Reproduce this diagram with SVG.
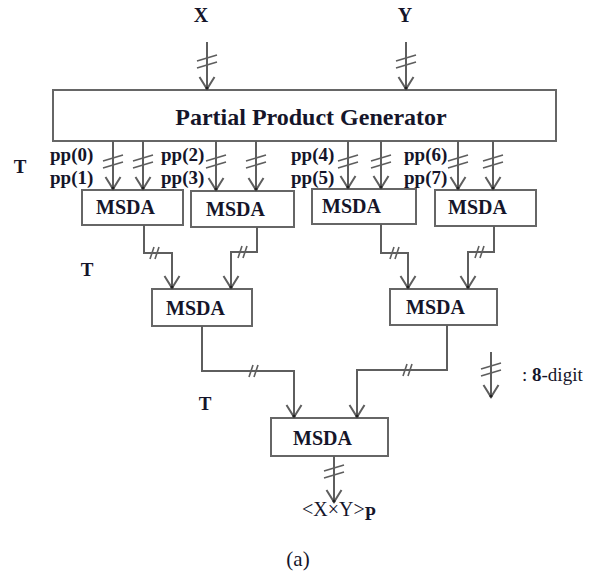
<svg xmlns="http://www.w3.org/2000/svg" width="597" height="574" viewBox="0 0 597 574">
<style>
.box{fill:#fff;stroke:#666;stroke-width:2}
.w{fill:none;stroke:#5e5e5e;stroke-width:2}
.sl{fill:none;stroke:#5e5e5e;stroke-width:1.6}
.t{font-family:"Liberation Serif","Times New Roman",serif;font-weight:bold;fill:#15152a}
.r{font-family:"Liberation Serif","Times New Roman",serif;fill:#15152a}
.m{font-size:20px}
.p{font-size:19px}
</style>
<defs>
<marker id="ah" markerUnits="userSpaceOnUse" markerWidth="20" markerHeight="20" viewBox="-14 -10 16 20" refX="0" refY="0" orient="auto">
<path d="M-12,-7.5 L0,0 L-12,7.5" fill="none" stroke="#5e5e5e" stroke-width="2"/>
<circle cx="-1" cy="0" r="1.6" fill="#222"/>
</marker>
<g id="vs"><path class="sl" d="M-10,0 L10,-6 M-10,7 L10,1"/></g>
<g id="hs"><path class="sl" d="M-6,6 L-2,-6 M-1,6 L3,-6"/></g>
</defs>

<g id="labels">
<text class="t" x="201" y="22" font-size="20" text-anchor="middle">X</text>
<text class="t" x="405" y="22" font-size="20" text-anchor="middle">Y</text>
<text class="t" x="20" y="173" font-size="19" text-anchor="middle">T</text>
<text class="t" x="87" y="276" font-size="19" text-anchor="middle">T</text>
<text class="t" x="205" y="410" font-size="19" text-anchor="middle">T</text>
<text class="t p" x="50" y="161">pp(0)</text>
<text class="t p" x="50" y="184">pp(1)</text>
<text class="t p" x="161" y="161">pp(2)</text>
<text class="t p" x="161" y="184">pp(3)</text>
<text class="t p" x="291" y="161">pp(4)</text>
<text class="t p" x="291" y="184">pp(5)</text>
<text class="t p" x="404" y="161">pp(6)</text>
<text class="t p" x="404" y="184">pp(7)</text>
<text class="r" x="302" y="516" font-size="20">&lt;X×Y&gt;<tspan class="t" font-size="18" dy="4">P</tspan></text>
<text class="r" x="298" y="566" font-size="21" text-anchor="middle">(a)</text>
<text class="r" x="522" y="381" font-size="19">: <tspan font-weight="bold">8</tspan>-digit</text>
</g>

<g id="ppg">
<rect class="box" x="53" y="90" width="503" height="51"/>
<text class="t" x="311" y="125" font-size="24" text-anchor="middle">Partial Product Generator</text>
</g>
<g id="msda1"><rect class="box" x="82" y="190" width="101" height="35"/><text class="t m" x="96" y="214">MSDA</text></g>
<g id="msda2"><rect class="box" x="191" y="191" width="103" height="36"/><text class="t m" x="206" y="216">MSDA</text></g>
<g id="msda3"><rect class="box" x="312" y="189" width="104" height="35"/><text class="t m" x="322" y="213">MSDA</text></g>
<g id="msda4"><rect class="box" x="435" y="190" width="101" height="36"/><text class="t m" x="448" y="214">MSDA</text></g>
<g id="msda5"><rect class="box" x="152" y="289" width="100" height="37"/><text class="t m" x="166" y="315">MSDA</text></g>
<g id="msda6"><rect class="box" x="390" y="289" width="107" height="36"/><text class="t m" x="406" y="314">MSDA</text></g>
<g id="msda7"><rect class="box" x="271" y="418" width="117" height="38"/><text class="t m" x="293" y="445">MSDA</text></g>

<g id="connectors">
<path class="w" d="M207,42 V89" marker-end="url(#ah)"/>
<path class="w" d="M406,42 V89" marker-end="url(#ah)"/>
<path class="w" d="M113,141 V189" marker-end="url(#ah)"/>
<path class="w" d="M143,141 V189" marker-end="url(#ah)"/>
<path class="w" d="M216,141 V190" marker-end="url(#ah)"/>
<path class="w" d="M256,141 V190" marker-end="url(#ah)"/>
<path class="w" d="M348,141 V188" marker-end="url(#ah)"/>
<path class="w" d="M381,141 V188" marker-end="url(#ah)"/>
<path class="w" d="M458,141 V189" marker-end="url(#ah)"/>
<path class="w" d="M493,141 V189" marker-end="url(#ah)"/>
<path class="w" d="M144,225 V253 H172 V288" marker-end="url(#ah)"/>
<path class="w" d="M257,227 V252 H231 V288" marker-end="url(#ah)"/>
<path class="w" d="M381,224 V253 H408 V288" marker-end="url(#ah)"/>
<path class="w" d="M494,226 V252 H468 V288" marker-end="url(#ah)"/>
<path class="w" d="M202,326 V371 H294 V417" marker-end="url(#ah)"/>
<path class="w" d="M447,325 V370 H357 V417" marker-end="url(#ah)"/>
<path class="w" d="M334,456 V502" marker-end="url(#ah)"/>
<path class="w" d="M491,352 V397" marker-end="url(#ah)"/>
<use href="#vs" x="207" y="61"/>
<use href="#vs" x="406" y="61"/>
<use href="#vs" x="113" y="161"/>
<use href="#vs" x="143" y="161"/>
<use href="#vs" x="216" y="161"/>
<use href="#vs" x="256" y="161"/>
<use href="#vs" x="348" y="161"/>
<use href="#vs" x="381" y="161"/>
<use href="#vs" x="458" y="161"/>
<use href="#vs" x="493" y="161"/>
<use href="#vs" x="334" y="471"/>
<use href="#vs" x="491" y="369"/>
<use href="#hs" x="156" y="253"/>
<use href="#hs" x="244" y="252"/>
<use href="#hs" x="396" y="253"/>
<use href="#hs" x="481" y="252"/>
<use href="#hs" x="255" y="371"/>
<use href="#hs" x="409" y="370"/>
</g>
</svg>
